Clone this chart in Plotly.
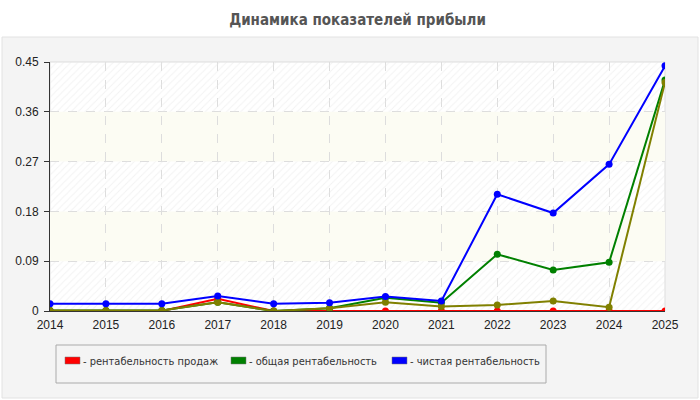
import plotly.graph_objects as go

years = [2014, 2015, 2016, 2017, 2018, 2019, 2020, 2021, 2022, 2023, 2024, 2025]
sales_prof = [0.0, 0.0, 0.0, 0.022, 0.0, 0.0, 0.0, 0.0, 0.0, 0.0, 0.0, 0.0]
total_prof = [0.001, 0.001, 0.001, 0.016, 0.0, 0.005, 0.024, 0.015, 0.1025, 0.074, 0.088, 0.4175]
other_prof = [0.001, 0.001, 0.001, 0.016, 0.0, 0.005, 0.016, 0.008, 0.011, 0.018, 0.007, 0.413]
net_prof = [0.013, 0.013, 0.013, 0.027, 0.013, 0.015, 0.026, 0.018, 0.211, 0.177, 0.265, 0.443]

legend_names = ["- рентабельность продаж", "- общая рентабельность", "- чистая рентабельность"]
colors = ["#ff0000", "#008000", "#0000ff"]
olive = "#808000"

tickvals = [0, 0.09, 0.18, 0.27, 0.36, 0.45]
ticktext = ["0", "0.09", "0.18", "0.27", "0.36", "0.45"]

# plot area in pixels (for converting layout decorations to paper coords)
PL, PR, PT, PB = 50, 665, 62, 311


def px(xp):
    return (xp - PL) / (PR - PL)


def py(yp):
    return (PB - yp) / (PB - PT)


fig = go.Figure()

# hatched background bands
for lo in [0, 0.18, 0.36]:
    fig.add_trace(go.Bar(x=[(years[0] + years[-1]) / 2], y=[0.09], base=[lo],
                         width=[years[-1] - years[0]],
                         marker=dict(color="rgba(0,0,0,0)", line=dict(width=0),
                                     pattern=dict(shape="/", fgcolor="#e6e6e6",
                                                  bgcolor="rgba(0,0,0,0)", size=5, solidity=0.2)),
                         hoverinfo="skip", showlegend=False))

series = [(sales_prof, colors[0]), (total_prof, colors[1]), (other_prof, olive), (net_prof, colors[2])]
for vals, c in series:
    fig.add_trace(go.Scatter(x=years, y=vals, mode="lines+markers",
                             line=dict(color=c, width=2),
                             marker=dict(color=c, size=7),
                             showlegend=False))

shapes = [
    dict(type="rect", xref="paper", yref="paper", x0=px(2), x1=px(698), y0=py(398), y1=py(37),
         fillcolor="#f4f4f4", line=dict(color="#e2e2e2", width=1), layer="below"),
    dict(type="rect", xref="paper", yref="paper", x0=0, x1=1, y0=0, y1=1,
         fillcolor="white", line=dict(color="#dddddd", width=1), layer="below"),
    # legend box
    dict(type="rect", xref="paper", yref="paper", x0=px(56), x1=px(546), y0=py(383), y1=py(345),
         fillcolor="#f4f4f4", line=dict(color="#aaaaaa", width=1), layer="below"),
]
for lo in [0.09, 0.27]:
    shapes.append(dict(type="rect", xref="paper", yref="y", x0=0, x1=1, y0=lo, y1=lo + 0.09,
                       fillcolor="#fcfcf3", line=dict(width=0), layer="below"))

annotations = []
swatch_x = [65, 231, 392]
for name, c, sx in zip(legend_names, colors, swatch_x):
    shapes.append(dict(type="rect", xref="paper", yref="paper", x0=px(sx), x1=px(sx + 15),
                       y0=py(364), y1=py(357), fillcolor=c, line=dict(color="#777", width=0.5),
                       layer="above"))
    annotations.append(dict(text=name, xref="paper", yref="paper", x=px(sx + 16), y=py(361),
                            xanchor="left", yanchor="middle", showarrow=False,
                            font=dict(family="DejaVu Sans Condensed, Roboto",
                                      size=11, color="#333")))

fig.update_layout(
    width=700, height=400,
    margin=dict(l=PL, r=700 - PR, t=PT, b=400 - PB),
    paper_bgcolor="white", plot_bgcolor="rgba(0,0,0,0)",
    barmode="overlay", showlegend=False,
    font=dict(family="Liberation Sans, Arial, sans-serif", size=12, color="#333"),
    title=dict(text="<b>Динамика показателей прибыли</b>", x=0.5, xref="paper", xanchor="center",
               y=0.95, yanchor="middle",
               font=dict(family="DejaVu Sans Condensed, Roboto", size=15, color="#555")),
    shapes=shapes,
    annotations=annotations,
    xaxis=dict(range=[years[0], years[-1]], tickvals=years, showgrid=True,
               gridcolor="#dddddd", griddash="dash", showline=True, linecolor="#333",
               linewidth=1, zeroline=False, ticks="", ticklabelstandoff=3,
               tickfont=dict(family="Liberation Sans, Arial", size=12, color="#222")),
    yaxis=dict(range=[0, 0.45], tickvals=tickvals, ticktext=ticktext, showgrid=True,
               gridcolor="#dddddd", griddash="dash", showline=True, linecolor="#333",
               linewidth=1, zeroline=False, ticks="outside", ticklen=5, tickcolor="#333",
               ticklabelstandoff=3,
               tickfont=dict(family="Liberation Sans, Arial", size=12, color="#222")),
)

fig.write_html("out.html")
